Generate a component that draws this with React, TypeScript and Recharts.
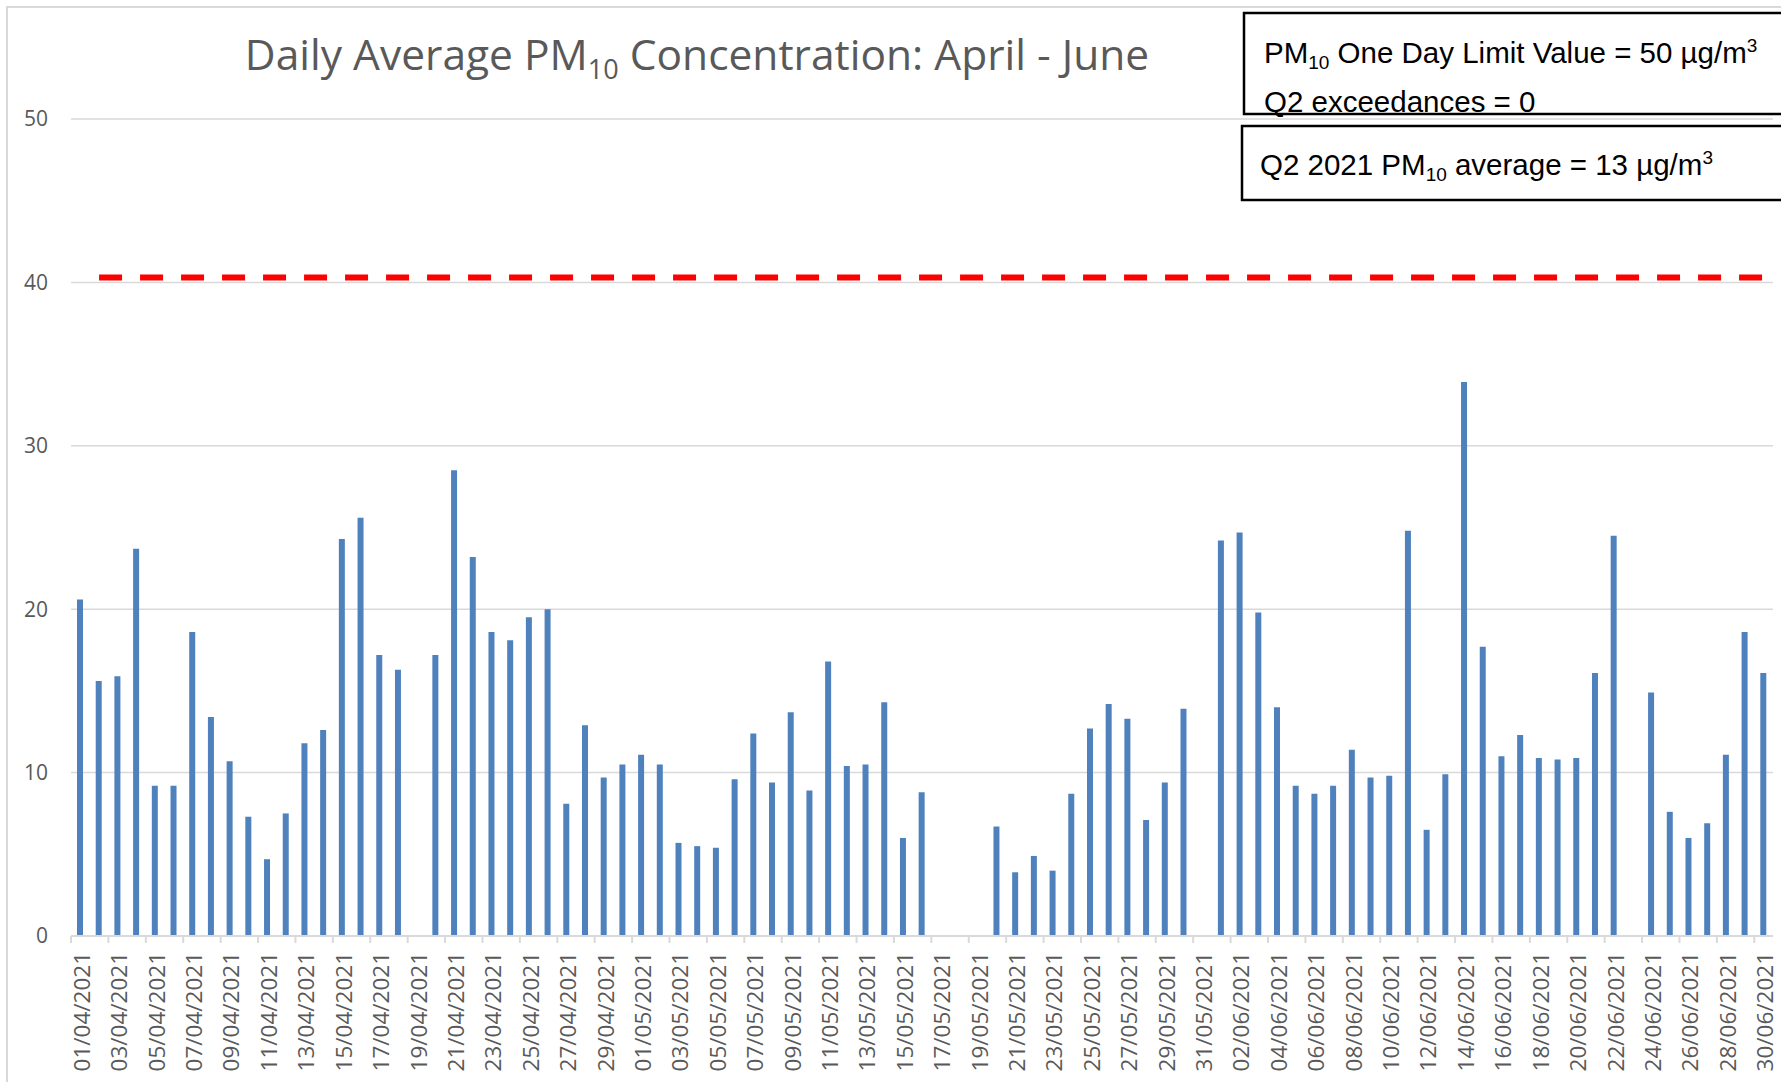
import React from 'react'
import { BarChart, Bar, XAxis, YAxis, CartesianGrid, ReferenceLine } from 'recharts'

const W = 1781
const H = 1082
const PLOT_LEFT = 71
const PLOT_RIGHT = 1773

const aprilDates = [
  '01/04/2021', '02/04/2021', '03/04/2021', '04/04/2021', '05/04/2021', '06/04/2021', '07/04/2021', '08/04/2021',
  '09/04/2021', '10/04/2021', '11/04/2021', '12/04/2021', '13/04/2021', '14/04/2021', '15/04/2021', '16/04/2021',
  '17/04/2021', '18/04/2021', '19/04/2021', '20/04/2021', '21/04/2021', '22/04/2021', '23/04/2021', '24/04/2021',
  '25/04/2021', '26/04/2021', '27/04/2021', '28/04/2021', '29/04/2021', '30/04/2021',
]
const mayDates = [
  '01/05/2021', '02/05/2021', '03/05/2021', '04/05/2021', '05/05/2021', '06/05/2021', '07/05/2021', '08/05/2021',
  '09/05/2021', '10/05/2021', '11/05/2021', '12/05/2021', '13/05/2021', '14/05/2021', '15/05/2021', '16/05/2021',
  '17/05/2021', '18/05/2021', '19/05/2021', '20/05/2021', '21/05/2021', '22/05/2021', '23/05/2021', '24/05/2021',
  '25/05/2021', '26/05/2021', '27/05/2021', '28/05/2021', '29/05/2021', '30/05/2021', '31/05/2021',
]
const juneDates = [
  '01/06/2021', '02/06/2021', '03/06/2021', '04/06/2021', '05/06/2021', '06/06/2021', '07/06/2021', '08/06/2021',
  '09/06/2021', '10/06/2021', '11/06/2021', '12/06/2021', '13/06/2021', '14/06/2021', '15/06/2021', '16/06/2021',
  '17/06/2021', '18/06/2021', '19/06/2021', '20/06/2021', '21/06/2021', '22/06/2021', '23/06/2021', '24/06/2021',
  '25/06/2021', '26/06/2021', '27/06/2021', '28/06/2021', '29/06/2021', '30/06/2021',
]

// daily mean PM10 (µg/m3), null = no data
const aprilPM10 = [
  20.6, 15.6, 15.9, 23.7, 9.2, 9.2, 18.6, 13.4, 10.7, 7.3, 4.7, 7.5, 11.8, 12.6, 24.3,
  25.6, 17.2, 16.3, null, 17.2, 28.5, 23.2, 18.6, 18.1, 19.5, 20.0, 8.1, 12.9, 9.7, 10.5,
]
const mayPM10 = [
  11.1, 10.5, 5.7, 5.5, 5.4, 9.6, 12.4, 9.4, 13.7, 8.9, 16.8, 10.4, 10.5, 14.3, 6.0, 8.8,
  null, null, null, 6.7, 3.9, 4.9, 4.0, 8.7, 12.7, 14.2, 13.3, 7.1, 9.4, 13.9, null,
]
const junePM10 = [
  24.2, 24.7, 19.8, 14.0, 9.2, 8.7, 9.2, 11.4, 9.7, 9.8, 24.8, 6.5, 9.9, 33.9, 17.7,
  11.0, 12.3, 10.9, 10.8, 10.9, 16.1, 24.5, null, 14.9, 7.6, 6.0, 6.9, 11.1, 18.6, 16.1,
]

const yTicks = [0, 10, 20, 30, 40, 50]
const limitLineValue = 40.3

const dates = [...aprilDates, ...mayDates, ...juneDates]
const values = [...aprilPM10, ...mayPM10, ...junePM10]
const data = dates.map((date, i) => ({ date, pm10: values[i] }))

const halfBand = (PLOT_RIGHT - PLOT_LEFT) / dates.length / 2

const XTick = (props: any) => {
  const { x, y, payload } = props
  const tx = x - halfBand
  return (
    <g>
      <line x1={tx} x2={tx} y1={y} y2={y + 7} stroke="#d9d9d9" strokeWidth={2} />
      <text
        transform={`translate(${x + 1},${y + 16}) rotate(-90)`}
        textAnchor="end"
        dominantBaseline="central"
        fill="#595959"
        fontSize={22.5}
        fontFamily="'Open Sans'"
      >
        {payload.value}
      </text>
    </g>
  )
}

export default function App() {
  return (
    <div style={{ position: 'absolute', left: 0, top: 0, width: W, height: H, overflow: 'hidden', background: '#fff' }}>
      <div style={{ position: 'absolute', left: 6, top: 6, width: W, height: H, borderLeft: '2px solid #d9d9d9', borderTop: '2px solid #d9d9d9' }} />
      <div style={{ position: 'absolute', left: 0, top: 0 }}>
        <BarChart width={W} height={H} data={data} margin={{ top: 119, right: W - PLOT_RIGHT, bottom: 0, left: 0 }}>
          <CartesianGrid vertical={false} stroke="#d9d9d9" strokeWidth={1.5} />
          <XAxis
            dataKey="date"
            interval={1}
            height={H - 936}
            tickLine={false}
            tickSize={0}
            tickMargin={0}
            axisLine={{ stroke: '#d9d9d9', strokeWidth: 2 }}
            tick={<XTick />}
          />
          <YAxis
            width={PLOT_LEFT}
            domain={[0, 50]}
            ticks={yTicks}
            axisLine={false}
            tickLine={false}
            tickSize={0}
            tickMargin={23}
            tick={{ fill: '#595959', fontSize: 21, fontFamily: "'Open Sans'" }}
          />
          <Bar dataKey="pm10" fill="#4f81bd" barSize={6} isAnimationActive={false} />
          <ReferenceLine
            segment={[
              { x: dates[1], y: limitLineValue },
              { x: dates[dates.length - 1], y: limitLineValue },
            ]}
            stroke="#ff0000"
            strokeWidth={6}
            strokeDasharray="23 18"
          />
        </BarChart>
      </div>
      <svg width={W} height={H} style={{ position: 'absolute', left: 0, top: 0, pointerEvents: 'none' }}>
        <text x={697} y={70} textAnchor="middle" fill="#595959" fontSize={42.5} fontFamily="'Open Sans'">
          Daily Average PM<tspan fontSize={27} dy={9}>10</tspan>
          <tspan dy={-9}> Concentration: April - June</tspan>
        </text>
        <rect x={1244} y={13} width={600} height={101} fill="#fff" stroke="#000" strokeWidth={2.5} />
        <text x={1264} y={63} fontSize={29.5} fontFamily="'Liberation Sans'" fill="#000">
          PM<tspan fontSize={19} dy={6}>10</tspan>
          <tspan dy={-6}> One Day Limit Value = 50 µg/m</tspan>
          <tspan fontSize={19} dy={-11}>3</tspan>
        </text>
        <text x={1264} y={112} fontSize={29.5} fontFamily="'Liberation Sans'" fill="#000">
          Q2 exceedances = 0
        </text>
        <rect x={1242} y={126} width={600} height={74} fill="#fff" stroke="#000" strokeWidth={2.5} />
        <text x={1260} y={175} fontSize={29.5} fontFamily="'Liberation Sans'" fill="#000">
          Q2 2021 PM<tspan fontSize={19} dy={6}>10</tspan>
          <tspan dy={-6}> average = 13 µg/m</tspan>
          <tspan fontSize={19} dy={-11}>3</tspan>
        </text>
      </svg>
    </div>
  )
}
